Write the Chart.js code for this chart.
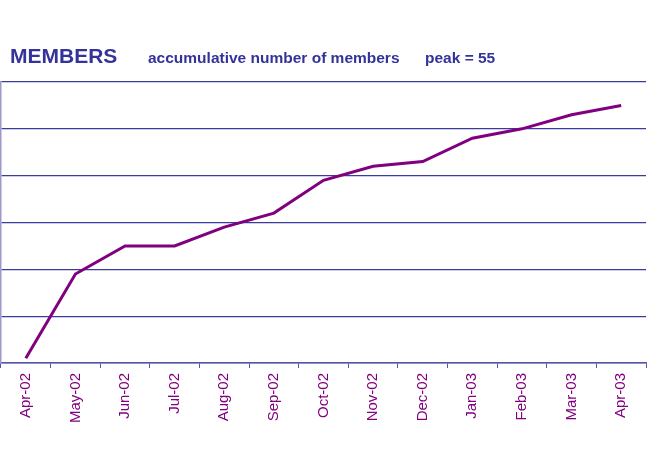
<!DOCTYPE html>
<html>
<head>
<meta charset="utf-8">
<script src="https://cdn.jsdelivr.net/npm/chart.js@4/dist/chart.umd.min.js"></script>
<style>
  html, body { margin: 0; padding: 0; background: #fff; }
  #wrap { position: relative; width: 650px; height: 453px; }
  #myChart { position: absolute; left: 0; top: 0; }
  .hdr { position: absolute; font-family: "Liberation Sans", Arial, sans-serif; font-weight: bold; color: #333399; white-space: nowrap; }
  #title { left: 10px; top: 44px; font-size: 21px; }
  #sub { left: 148px; top: 49px; font-size: 15.5px; }
  #peak { left: 425px; top: 49px; font-size: 15.5px; }
</style>
</head>
<body>
<div id="wrap">
  <canvas id="myChart" width="650" height="453"></canvas>
  <div class="hdr" id="title">MEMBERS</div>
  <div class="hdr" id="sub">accumulative number of members</div>
  <div class="hdr" id="peak">peak = 55</div>
</div>
<script>
// miembros acumulados por mes
const meses = ["Apr-02", "May-02", "Jun-02", "Jul-02", "Aug-02", "Sep-02", "Oct-02",
  "Nov-02", "Dec-02", "Jan-03", "Feb-03", "Mar-03", "Apr-03"];
const miembros = [1, 19, 25, 25, 29, 32, 39, 42, 43, 48, 50, 53, 55];
const escalaY = { min: 0, max: 60, step: 10 };

document.addEventListener("DOMContentLoaded", () => {
  const ctx = document.getElementById("myChart");

  new Chart(ctx, {
    type: "line",
    data: {
      labels: meses,
      datasets: [{
        data: miembros,
        borderColor: "#800080",
        borderWidth: 3,
        pointRadius: 0,
        tension: 0,
        fill: false
      }]
    },
    options: {
      responsive: false,
      animation: false,
      layout: { padding: { top: 82, left: 1, right: 4, bottom: 25 } },
      plugins: { legend: { display: false }, tooltip: { enabled: false } },
      scales: {
        x: {
          offset: true,
          grid: {
            offset: true,
            drawOnChartArea: false,
            drawTicks: true,
            tickLength: 5,
            color: "#5555aa"
          },
          border: { color: "#5555aa", width: 1.5 },
          ticks: {
            color: "#800080",
            maxRotation: 90,
            minRotation: 90,
            padding: 5,
            font: { family: "Liberation Sans, Arial, sans-serif", size: 15 }
          }
        },
        y: {
          min: escalaY.min,
          max: escalaY.max,
          grid: { color: "#3b3b9a", lineWidth: 1.2, drawTicks: false },
          border: { color: "#9999cc", width: 1.5 },
          ticks: { display: false, stepSize: escalaY.step }
        }
      }
    }
  });
});
</script>
</body>
</html>
